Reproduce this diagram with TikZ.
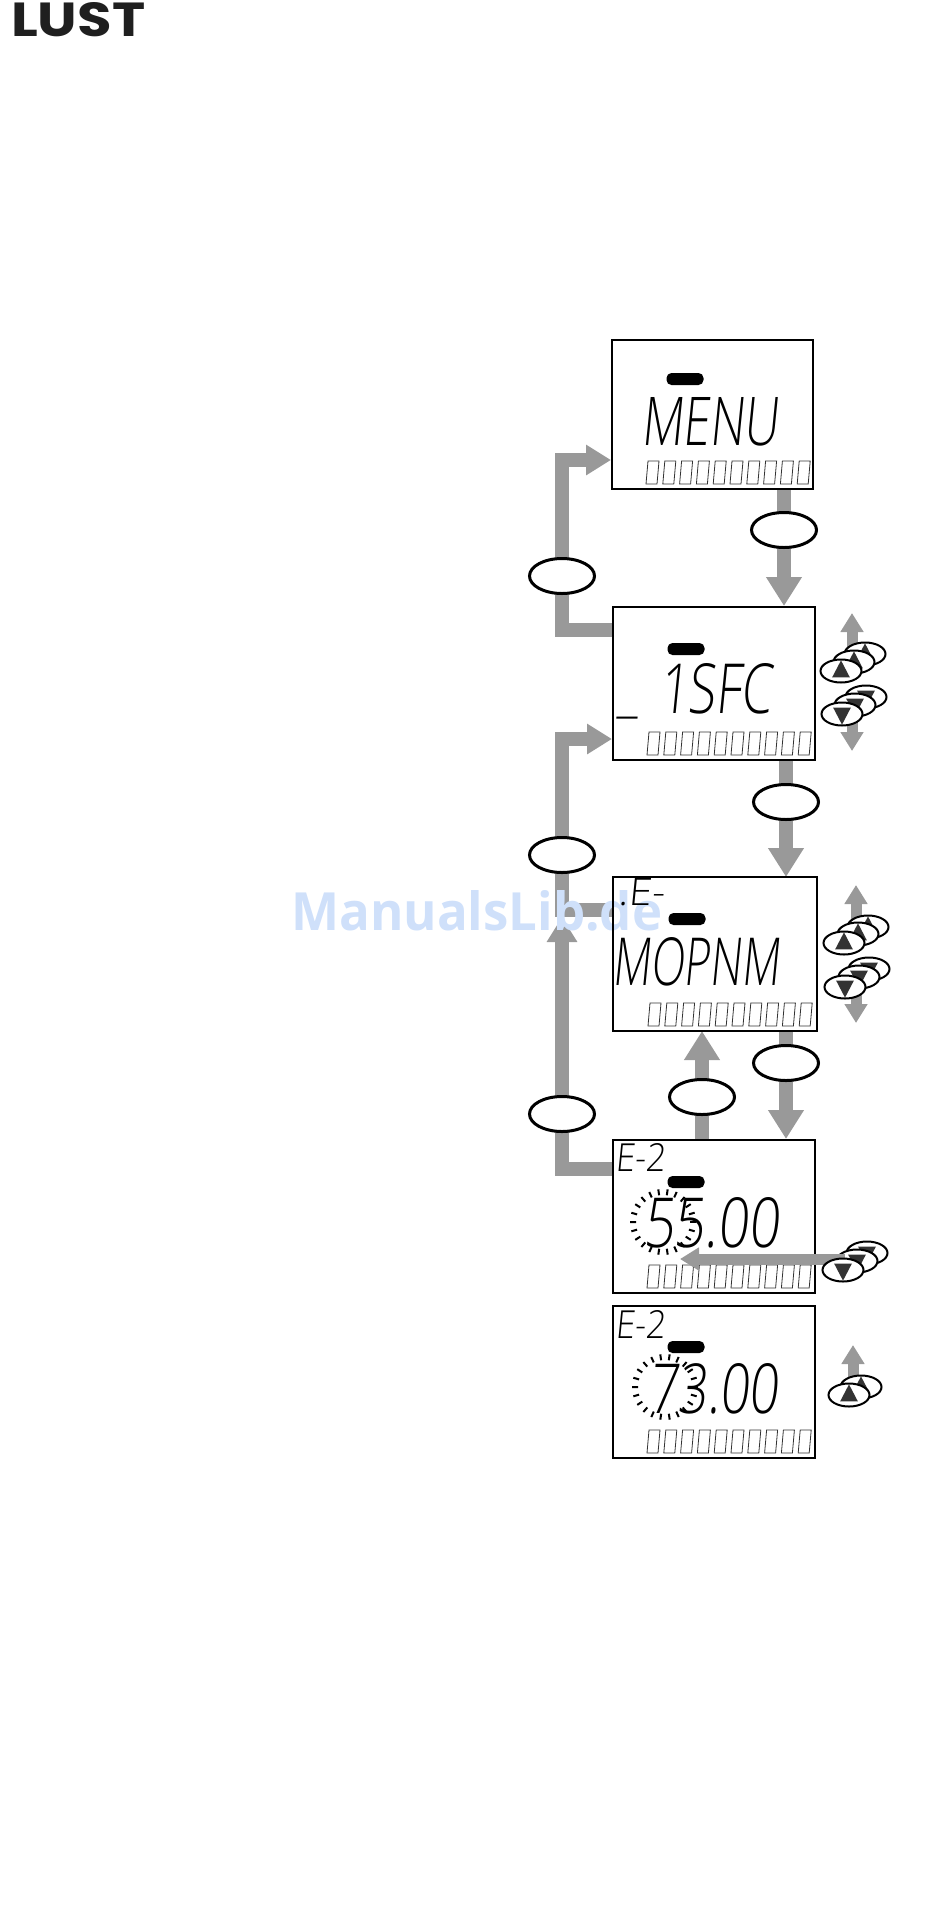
\documentclass[tikz,border=0pt]{standalone}
\usepackage{graphicx}
\usepackage{fontspec}
\usetikzlibrary{arrows.meta,positioning,shapes.geometric}
\newfontfamily\lcdfont{Open Sans Light}
\newfontfamily\logofont{Poppins}[BoldFont=* Bold]
\newfontfamily\markfont{Open Sans}
\newcommand{\fitbox}[3]{\resizebox{#1pt}{#2pt}{#3}}
\definecolor{arrgray}{HTML}{999999}
\definecolor{markblue}{RGB}{207,224,250}

\begin{document}
\begin{tikzpicture}[
  x=1pt, y=-1pt,
  lcdbox/.style={draw, line width=2pt, anchor=north west, inner sep=0pt},
  lcd/.style={anchor=north west, inner sep=0pt, xslant=0.1, font=\lcdfont},
  pill/.style={rounded corners=5pt, fill=black, minimum width=37pt, minimum height=12pt, inner sep=0pt},
  key/.style={ellipse, draw, line width=3pt, fill=white, minimum width=65pt,
              minimum height=35pt, inner sep=0pt},
  btn/.style={ellipse, draw, line width=2pt, fill=white, minimum width=41pt,
              minimum height=23pt, inner sep=0pt},
  tri/.style={isosceles triangle, isosceles triangle apex angle=55, fill=black!80,
              minimum size=17pt, inner sep=0pt},
  arr/.style={-{Triangle[length=29pt,width=34pt]}, line width=14pt, arrgray},
  arrl/.style={-{Triangle[length=25pt,width=29pt]}, line width=14pt, arrgray},
  arrs/.style={-{Triangle[length=19pt,width=22pt]}, line width=11pt, arrgray},
  cell/.style={line width=0.8pt, black!80},
]
\useasboundingbox (0,0) rectangle (950,1931);

\node[anchor=north west, inner sep=0pt, text=black!88] (logo) at (11,2)
  {\fitbox{134}{34}{\logofont\bfseries LUST}};

% displays
\node[lcdbox, minimum width=201pt, minimum height=149pt] (b1) at (611,339) {};
\node[lcdbox, minimum width=202pt, minimum height=153pt] (b2) at (612,606) {};
\node[lcdbox, draw=none, minimum width=202pt, minimum height=152pt] (b3) at (613,877) {};
\node[lcdbox, minimum width=202pt, minimum height=153pt] (b4) at (612,1139) {};
\node[lcdbox, minimum width=202pt, minimum height=152pt] (b5) at (612,1305) {};

\foreach \bx/\by in {646/461, 647/732, 648/1003, 647/1265, 647/1430}{
  \foreach \i in {0,...,9}{
    \draw[cell] (\bx+\i*16.8+2,\by) -- ++(11,0) -- ++(-2,23) -- ++(-11,0) -- cycle;
  }
}

\node[lcd] (t1) at (646,397) {\fitbox{137}{48}{MENU}};
\node[lcd] (t2) at (664,663) {\fitbox{112}{50}{1SFC}};
\node[lcd] (t2u) at (617,712) {\resizebox{21pt}{!}{\_}};
\node[lcd] (t3) at (617,937) {\fitbox{167}{48}{MOPNM}};
\node[lcd] (t4s) at (618,1143) {\fitbox{50}{28}{E-2}};
\node[lcd] (t4) at (648,1197) {\fitbox{136}{50}{55.00}};
\node[lcd] (t5s) at (618,1310) {\fitbox{50}{28}{E-2}};
\node[lcd] (t5) at (653,1363) {\fitbox{130}{50}{73.00}};

\node[pill] (p1) at (685,379) {};
\node[pill] (p2) at (686,649) {};
\node[pill] (p3) at (687,919) {};
\node[pill] (p4) at (686,1182) {};
\node[pill] (p5) at (686,1347) {};

% blinking digit
\foreach \cx/\cy in {663/1222, 665/1387}{
  \foreach \a in {0,16.36,...,359}{
    \draw[line width=2pt] (\cx,\cy) ++(\a:27) -- ++(\a:6);
  }
}

% key ovals sit on the connectors
\coordinate (k1) at (784,530);
\coordinate (k2) at (562,576);
\coordinate (k3) at (786,802);
\coordinate (k4) at (562,855);
\coordinate (k5) at (562,1114);
\coordinate (k6) at (702,1097);
\coordinate (k7) at (786,1063);

\coordinate (s2) at (b2.west |- 0,630);
\coordinate (d1) at (b1.west |- 0,460);
\coordinate (s3) at (b3.west |- 0,910);
\coordinate (d2) at (b2.west |- 0,739);
\coordinate (s4) at (b4.west |- 0,1169);
\coordinate (d3) at (562,917);

\draw[arr] (k1 |- b1.south) -- (k1 |- b2.north);
\draw[arr] (k3 |- b2.south) -- (k3 |- b3.north);
\draw[arr] (k7 |- b3.south) -- (k7 |- b4.north);
\draw[arr] (k6 |- b4.north) -- (k6 |- b3.south);
\draw[arrl] (s2) -| (k2) |- (d1);
\draw[arrl] (s3) -| (k4) |- (d2);
\draw[arrl] (s4) -| (k5) -- (d3);

\node[key] (e1) at (k1) {};
\node[key] (e2) at (k2) {};
\node[key] (e3) at (k3) {};
\node[key] (e4) at (k4) {};
\node[key] (e5) at (k5) {};
\node[key] (e6) at (k6) {};
\node[key] (e7) at (k7) {};

% side keys
\coordinate (u2) at (852,613);
\coordinate (v2) at (852,751);
\coordinate (u3) at (856,885);
\coordinate (v3) at (856,1023);
\coordinate (u5) at (853,1345);
\draw[arrs] (852,660) -- (u2);
\draw[arrs] (852,700) -- (v2);
\draw[arrs] (856,930) -- (u3);
\draw[arrs] (856,975) -- (v3);
\draw[arrs] (853,1390) -- (u5);

\foreach \n/\x/\y in {a/865/654, b/854/662, c/841/671,
                      g/868/927, h/858/934, i/844/943,
                      s/861/1387, t/849/1395}{
  \node[btn] (up\n) at (\x,\y) {};
  \node[tri, rotate=90] (tu\n) at (\x,\y+1) {};
}
\foreach \n/\x/\y in {d/866/697, e/855/705, f/842/714,
                      j/869/969, k/859/977, l/845/987}{
  \node[btn] (dn\n) at (\x,\y) {};
  \node[tri, rotate=-90] (td\n) at (\x,\y-1) {};
}

\coordinate (v4) at (680,1259);
\foreach \n/\x/\y in {m/867/1253, n/857/1261}{
  \node[btn] (dn\n) at (\x,\y) {};
  \node[tri, rotate=-90] (td\n) at (\x,\y-1) {};
}
\draw[arrs] (845,1259) -- (v4);
\node[btn] (dno) at (843,1270) {};
\node[tri, rotate=-90] (tdo) at (843,1269) {};

\node[anchor=north west, inner sep=0pt, text=markblue] (mark) at (291,890)
  {\fitbox{371}{40}{\markfont\bfseries ManualsLib.de}};
% these stay above the mark
\draw[line width=2pt] (b3.north west) rectangle (b3.south east);
\node[lcd] (t3s) at (621,878) {\fitbox{46}{27}{.E-}};
\end{tikzpicture}
\end{document}
